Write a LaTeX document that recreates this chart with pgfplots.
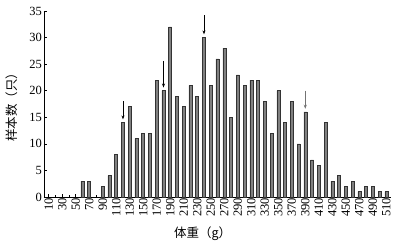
\documentclass[border=0pt]{standalone}
\usepackage{fontspec}
\setmainfont{Liberation Serif}
\newfontfamily\cjk{Noto Sans CJK SC}
\usepackage{pgfplots}
\pgfplotsset{compat=1.18}
\usetikzlibrary{arrows.meta}
\begin{document}
\begin{tikzpicture}
\begin{axis}[
  scale only axis,
  width=347pt, height=186pt,
  xmin=3, xmax=517, ymin=0, ymax=35,
  axis lines=left,
  axis line style={-, line width=0.8pt},
  ybar, bar width=3pt,
  xtick={10,30,...,510},
  minor xtick={20,40,...,500},
  ytick={0,5,...,35},
  tick align=inside,
  major tick length=3pt, minor tick length=2pt,
  tick style={black, line width=0.6pt},
  font=\fontsize{12.5}{14}\selectfont,
  /pgf/number format/assume math mode=true,
  xticklabel style={rotate=90, anchor=east, inner sep=1pt},
  yticklabel style={inner sep=2pt},
  xlabel={\cjk 体重（g）},
  xlabel style={at={(rel axis cs:0.457,0)}, anchor=center, yshift=-37pt},
  ylabel={\cjk 样本数（只）},
  ylabel style={at={(rel axis cs:0,0.5)}, anchor=center, yshift=32pt},
  clip=false,
]
\addplot[fill=black!50, draw=black!80, line width=0.5pt] coordinates {
(60,3) (70,3) (90,2) (100,4) (110,8) (120,14) (130,17) (140,11) (150,12) (160,12)
(170,22) (180,20) (190,32) (200,19) (210,17) (220,21) (230,19) (240,30) (250,21)
(260,26) (270,28) (280,15) (290,23) (300,21) (310,22) (320,22) (330,18) (340,12)
(350,20) (360,14) (370,18) (380,10) (390,16) (400,7) (410,6) (420,14) (430,3)
(440,4) (450,2) (460,3) (470,1) (480,2) (490,2) (500,1) (510,1)
};
\draw[-{Stealth[length=4pt,width=3pt]}, line width=0.8pt] (axis cs:120,18) -- (axis cs:120,14.6);
\draw[-{Stealth[length=4pt,width=3pt]}, line width=0.5pt] (axis cs:180,25.6) -- (axis cs:180,20.6);
\draw[-{Stealth[length=4pt,width=3pt]}, line width=0.9pt] (axis cs:240,34.2) -- (axis cs:240,30.6);
\draw[-{Stealth[length=4pt,width=3pt]}, line width=0.7pt, black!55] (axis cs:390,20) -- (axis cs:390,16.6);
\end{axis}
\pgfresetboundingbox
\path[use as bounding box] (-44pt,-52pt) rectangle (358pt,197pt);
\end{tikzpicture}
\end{document}
